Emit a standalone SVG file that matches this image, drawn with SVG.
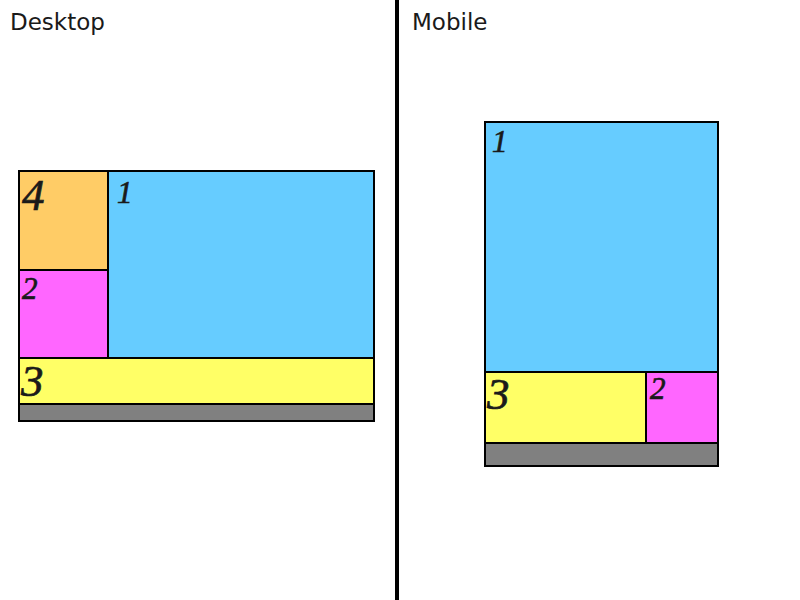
<svg xmlns="http://www.w3.org/2000/svg" width="800" height="600" viewBox="0 0 800 600">
<style>
.box{stroke:#000;stroke-width:2}
.title{font-family:"DejaVu Sans",sans-serif;font-size:23px;fill:#1a1a1a}
.num{font-family:"Liberation Serif",serif;font-style:italic;fill:#1a1a1a;stroke:#1a1a1a;stroke-width:0.7;font-variant-numeric:oldstyle-nums}
.small{font-size:31px}
.big{font-size:45px}
</style>
<rect width="800" height="600" fill="#fff"/>
<g id="divider"><line x1="397" y1="0" x2="397" y2="600" stroke="#000" stroke-width="4"/></g>
<g id="label-desktop"><text class="title" x="10" y="30">Desktop</text></g>
<g id="label-mobile"><text class="title" x="412" y="30">Mobile</text></g>
<g id="desktop">
  <g id="d-gray"><rect class="box" x="19" y="404" width="355" height="17" fill="#808080"/></g>
  <g id="d-blue"><rect class="box" x="108" y="171" width="266" height="187" fill="#66ccff"/><text class="num small" x="117" y="203">1</text></g>
  <g id="d-orange"><rect class="box" x="19" y="171" width="89" height="99" fill="#ffcc66"/><text class="num big" x="22" y="210">4</text></g>
  <g id="d-pink"><rect class="box" x="19" y="270" width="89" height="88" fill="#ff66ff"/><text class="num small" x="22" y="299">2</text></g>
  <g id="d-yellow"><rect class="box" x="19" y="358" width="355" height="46" fill="#ffff66"/><text class="num big" x="21" y="396">3</text></g>
</g>
<g id="mobile">
  <g id="m-gray"><rect class="box" x="485" y="443" width="233" height="23" fill="#808080"/></g>
  <g id="m-blue"><rect class="box" x="485" y="122" width="233" height="250" fill="#66ccff"/><text class="num small" x="492" y="152">1</text></g>
  <g id="m-yellow"><rect class="box" x="485" y="372" width="161" height="71" fill="#ffff66"/><text class="num big" x="487" y="409">3</text></g>
  <g id="m-pink"><rect class="box" x="646" y="372" width="72" height="71" fill="#ff66ff"/><text class="num small" x="650" y="399">2</text></g>
</g>
</svg>
